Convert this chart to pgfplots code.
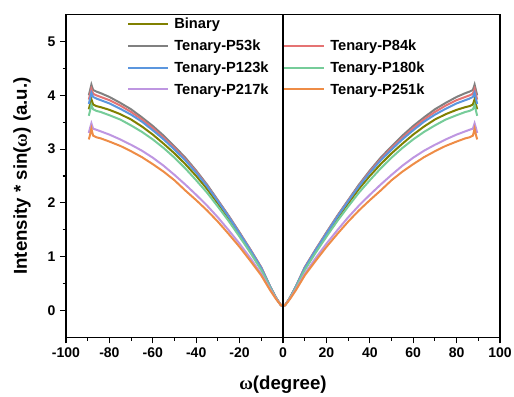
\documentclass[border=0pt]{standalone}
\usepackage{pgfplots}
\pgfplotsset{compat=1.18}
\usepackage{pgfplotstable}
\usepackage{fontspec}
\setmainfont{Liberation Sans}
\newfontfamily\symfont{Liberation Serif}

\definecolor{cbin}{RGB}{128,128,0}
\definecolor{c53}{RGB}{128,128,128}
\definecolor{c84}{RGB}{229,115,115}
\definecolor{c123}{RGB}{91,150,222}
\definecolor{c180}{RGB}{118,204,153}
\definecolor{c217}{RGB}{190,150,225}
\definecolor{c251}{RGB}{238,140,70}

\pgfplotstableread{
x     bin   t53   t84   t123  t180  t217  t251
-89.5 3.74  4.00  3.92  3.84  3.62  3.30  3.18
-89.0 3.82  4.08  4.00  3.92  3.70  3.38  3.25
-88.3 3.93  4.20  4.12  4.05  3.82  3.48  3.38
-87.5 3.83  4.10  4.03  3.97  3.74  3.38  3.25
-86   3.80  4.07  4.00  3.94  3.71  3.36  3.22
-84   3.78  4.04  3.97  3.91  3.69  3.33  3.20
-80   3.73  3.97  3.91  3.85  3.63  3.27  3.14
-75   3.65  3.86  3.81  3.75  3.55  3.18  3.06
-70   3.55  3.74  3.69  3.64  3.44  3.08  2.96
-65   3.42  3.59  3.55  3.51  3.32  2.97  2.85
-60   3.27  3.43  3.39  3.35  3.18  2.84  2.72
-55   3.10  3.25  3.21  3.18  3.02  2.69  2.58
-50   2.92  3.05  3.02  2.99  2.84  2.52  2.42
-45   2.72  2.84  2.81  2.79  2.64  2.34  2.23
-40   2.50  2.60  2.58  2.56  2.42  2.15  2.05
-35   2.26  2.34  2.32  2.31  2.19  1.95  1.86
-30   1.99  2.05  2.04  2.03  1.93  1.73  1.65
-25   1.71  1.76  1.75  1.74  1.66  1.49  1.42
-20   1.41  1.45  1.44  1.43  1.37  1.24  1.18
-15   1.10  1.13  1.13  1.12  1.07  0.97  0.92
-10   0.77  0.80  0.80  0.79  0.75  0.68  0.65
-6    0.44  0.45  0.45  0.45  0.43  0.40  0.38
-3    0.22  0.22  0.22  0.22  0.22  0.21  0.20
-1    0.10  0.10  0.10  0.10  0.10  0.10  0.10
0     0.08  0.08  0.08  0.08  0.08  0.08  0.08
1     0.10  0.10  0.10  0.10  0.10  0.10  0.10
3     0.22  0.22  0.22  0.22  0.22  0.21  0.20
6     0.44  0.45  0.45  0.45  0.43  0.40  0.38
10    0.77  0.80  0.80  0.79  0.75  0.68  0.65
15    1.10  1.13  1.13  1.12  1.07  0.97  0.92
20    1.41  1.45  1.44  1.43  1.37  1.24  1.18
25    1.71  1.76  1.75  1.74  1.66  1.49  1.42
30    1.99  2.05  2.04  2.03  1.93  1.73  1.65
35    2.26  2.34  2.32  2.31  2.19  1.95  1.86
40    2.50  2.60  2.58  2.56  2.42  2.15  2.05
45    2.72  2.84  2.81  2.79  2.64  2.34  2.23
50    2.92  3.05  3.02  2.99  2.84  2.52  2.42
55    3.10  3.25  3.21  3.18  3.02  2.69  2.58
60    3.27  3.43  3.39  3.35  3.18  2.84  2.72
65    3.42  3.59  3.55  3.51  3.32  2.97  2.85
70    3.55  3.74  3.69  3.64  3.44  3.08  2.96
75    3.65  3.86  3.81  3.75  3.55  3.18  3.06
80    3.73  3.97  3.91  3.85  3.63  3.27  3.14
84    3.78  4.04  3.97  3.91  3.69  3.33  3.20
86    3.80  4.07  4.00  3.94  3.71  3.36  3.22
87.5  3.83  4.10  4.03  3.97  3.74  3.38  3.25
88.3  3.93  4.20  4.12  4.05  3.82  3.48  3.38
89.0  3.82  4.08  4.00  3.92  3.70  3.38  3.25
89.5  3.74  4.00  3.92  3.84  3.62  3.30  3.18
}\data

\begin{document}
\begin{tikzpicture}
\begin{axis}[
  scale only axis,
  width=325.5pt, height=242pt,
  xmin=-100, xmax=100, ymin=-0.5, ymax=5.5,
  xtick={-100,-80,...,100}, ytick={0,1,...,5},
  minor x tick num=1, minor y tick num=1,
  tick pos=left, tick align=outside,
  major tick length=4.5pt, minor tick length=2.5pt,
  every tick/.style={black, line width=0.8pt},
  axis line style={line width=0.9pt},
  /pgf/number format/assume math mode=true,
  ticklabel style={font=\fontsize{10.5}{12}\selectfont\bfseries},
  xlabel={{\symfont\bfseries ω}(degree)},
  ylabel={Intensity * sin({\symfont ω}) (a.u.)},
  label style={font=\fontsize{14}{16}\selectfont\bfseries},
  xlabel style={at={(axis description cs:0.5,-0.1455)}, anchor=center},
  ylabel style={at={(axis description cs:-0.1014,0.5)}, anchor=center},
  legend columns=2,
  legend cell align=left,
  legend image code/.code={\draw[#1] (0pt,0pt) -- (30pt,0pt);},
  legend style={at={(0.1406,1)}, anchor=north west, yshift=-2.5pt,
    draw=none, fill=none, inner sep=0pt, row sep=7.3pt,
    font=\fontsize{11}{13}\selectfont\bfseries,
    nodes={inner sep=0pt, text height=8pt, text depth=1pt},
    /tikz/every odd column/.append style={column sep=3.75pt},
    /tikz/every even column/.append style={column sep=11pt}},
  every axis plot/.append style={line width=1.5pt},
]
\addplot[cbin, no marks] table[x=x,y=bin] {\data};
\addlegendentry{Binary}
\addlegendimage{empty legend}
\addlegendentry{}
\addplot[c53, no marks] table[x=x,y=t53] {\data};
\addlegendentry{Tenary-P53k}
\addplot[c84, no marks] table[x=x,y=t84] {\data};
\addlegendentry{Tenary-P84k}
\addplot[c123, no marks] table[x=x,y=t123] {\data};
\addlegendentry{Tenary-P123k}
\addplot[c180, no marks] table[x=x,y=t180] {\data};
\addlegendentry{Tenary-P180k}
\addplot[c217, no marks] table[x=x,y=t217] {\data};
\addlegendentry{Tenary-P217k}
\addplot[c251, no marks] table[x=x,y=t251] {\data};
\addlegendentry{Tenary-P251k}
\addplot[black, line width=0.9pt, no marks, forget plot] coordinates {(0,-0.5) (0,5.5)};
\end{axis}
\pgfresetboundingbox
\path ([shift={(-49.5pt,-44.25pt)}]current axis.south west) rectangle ([shift={(10.5pt,11pt)}]current axis.north east);
\end{tikzpicture}
\end{document}
